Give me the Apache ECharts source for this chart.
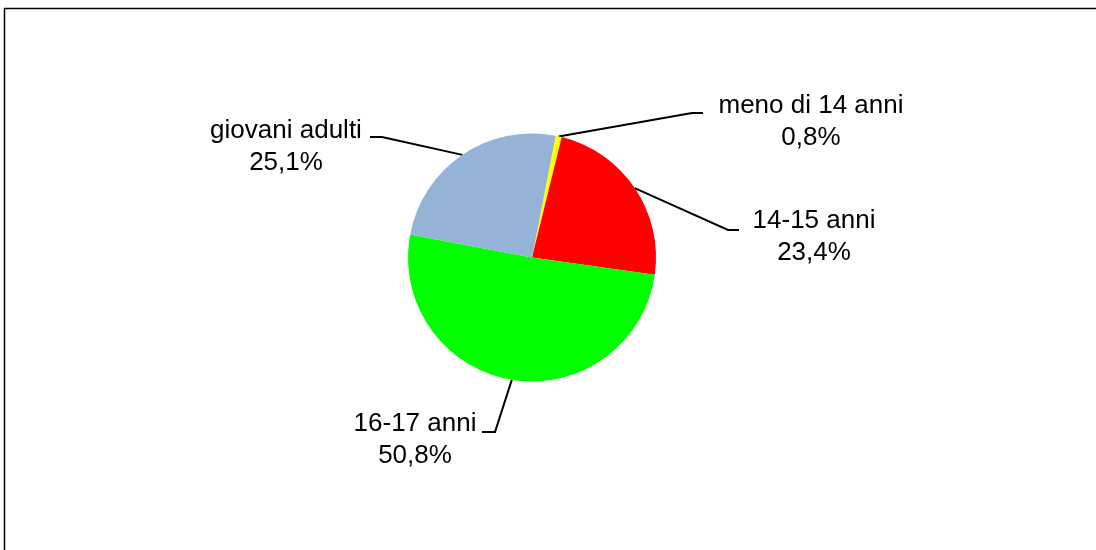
<!DOCTYPE html>
<html>
<head>
<meta charset="utf-8">
<script src="https://cdn.jsdelivr.net/npm/echarts@6/dist/echarts.min.js"></script>
<style>
  html, body { margin: 0; padding: 0; background: #fff; }
  #main { width: 1096px; height: 550px; }
</style>
</head>
<body>
<div id="main"></div>
<script>
// dati (percentuali)
var categories = ['meno di 14 anni', '14-15 anni', '16-17 anni', 'giovani adulti'];
var values = [0.8, 23.4, 50.8, 25.1];
var colors = ['#FFFF00', '#FF0000', '#00FF00', '#95B3D7'];

// posizione etichette (centro testo) e gomito della linea guida
var labelSpots = [
  { x: 811, y: 122, elbow: [692, 113], end: [703, 113] },
  { x: 814, y: 237, elbow: [728, 230], end: [739, 230] },
  { x: 415, y: 440, elbow: [495, 432], end: [482, 432] },
  { x: 286, y: 147, elbow: [382, 137], end: [370, 137] }
];

var pieData = categories.map(function (name, i) {
  return { name: name, value: values[i], itemStyle: { color: colors[i] } };
});

var myChart = echarts.init(document.getElementById('main'));
var option = {
  animation: false,
  backgroundColor: '#fff',
  graphic: [{
    type: 'rect',
    shape: { x: 4.5, y: 8.5, width: 1200, height: 700 },
    style: { fill: 'none', stroke: '#000', lineWidth: 1.5 },
    silent: true
  }],
  series: [{
    type: 'pie',
    center: [532, 257.5],
    radius: 124,
    startAngle: 79,
    clockwise: true,
    avoidLabelOverlap: false,
    emphasis: { disabled: true },
    data: pieData,
    label: {
      show: true,
      position: 'outside',
      color: '#000',
      fontFamily: 'Liberation Sans, Arial, sans-serif',
      fontSize: 26,
      lineHeight: 32,
      formatter: function (p) {
        return p.name + '\n' + p.value.toFixed(1).replace('.', ',') + '%';
      }
    },
    labelLine: {
      show: true,
      length: 20,
      length2: 10,
      lineStyle: { color: '#000', width: 2 }
    },
    labelLayout: function (params) {
      var s = labelSpots[params.dataIndex];
      var start = params.labelLinePoints ? params.labelLinePoints[0] : s.elbow;
      return {
        x: s.x,
        y: s.y,
        align: 'center',
        verticalAlign: 'middle',
        labelLinePoints: [start, s.elbow, s.end]
      };
    }
  }]
};
myChart.setOption(option);
</script>
</body>
</html>
